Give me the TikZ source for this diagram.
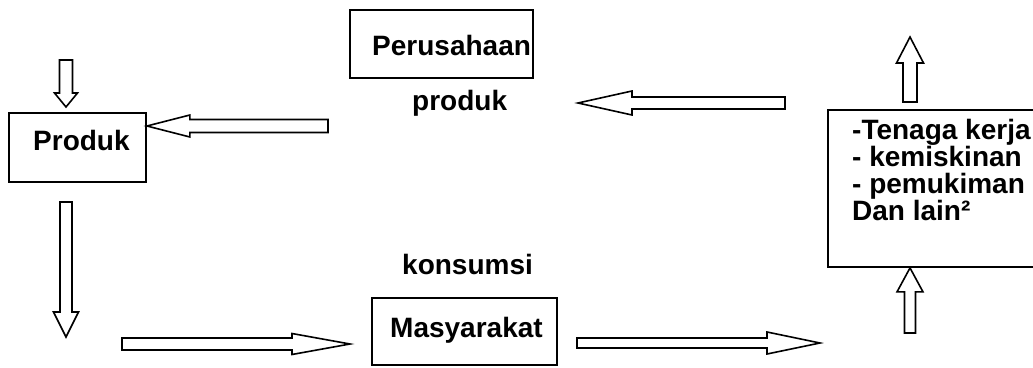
\documentclass[tikz,border=0pt]{standalone}
\usepackage{fontspec}
\setmainfont{Liberation Sans}
\usetikzlibrary{calc}
\tikzset{
  tbox/.style={draw, rectangle, line width=1.8pt, inner sep=0pt},
  lbl/.style={inner sep=0pt, font=\bfseries\fontsize{28}{26.7}\selectfont},
  hollow/.style={draw, line width=1.6pt, line join=miter, fill=white},
}
% hollow block arrow: #1 tail, #2 tip, #3 half shaft width, #4 half head width, #5 head length
\newcommand\blockarrow[5]{%
  \coordinate (ba-h) at ($(#2)!#5!(#1)$);
  \draw[hollow] ($(#1)!#3!90:(#2)$) -- ($(ba-h)!#3!90:(#2)$) -- ($(ba-h)!#4!90:(#2)$)
    -- (#2) -- ($(ba-h)!#4!-90:(#2)$) -- ($(ba-h)!#3!-90:(#2)$) -- ($(#1)!#3!-90:(#2)$) -- cycle;
}
\begin{document}
\begin{tikzpicture}[x=1pt, y=-1pt]
\useasboundingbox (0,0) rectangle (1033,367);
\clip (0,0) rectangle (1033,367);

% boxes
\node[tbox, minimum width=137pt, minimum height=69pt] (produk) at (77.5,147.5) {};
\node[lbl, anchor=base west] (produkT) at (33,150) {Produk};

\node[tbox, minimum width=183pt, minimum height=68pt] (perusahaan) at (441.5,44) {};
\node[lbl, anchor=base west] (perusahaanT) at (372,55) {Perusahaan};

\node[tbox, minimum width=185pt, minimum height=67pt] (masyarakat) at (464.5,331.5) {};
\node[lbl, anchor=base west] (masyarakatT) at (390,337) {Masyarakat};

\node[tbox, minimum width=217pt, minimum height=157pt] (dampak) at (936.5,188.5) {};
\node[lbl, anchor=north west, align=left] (dampakT) at (852,119.5)
  {-Tenaga kerja\\- kemiskinan\\- pemukiman\\Dan lain²};

% free labels
\node[lbl, anchor=base west] (lblProduk) at (412,110) {produk};
\node[lbl, anchor=base west] (lblKonsumsi) at (402,274) {konsumsi};

% connector end points
\coordinate (a1s) at (66,60);    \coordinate (a1e) at (66,107);
\coordinate (a2s) at (328,126);  \coordinate (a2e) at (produk.east |- a2s);
\coordinate (a3s) at (785,103);  \coordinate (a3e) at (578,103);
\coordinate (a4s) at (66,202);   \coordinate (a4e) at (66,337);
\coordinate (a5s) at (122,344);  \coordinate (a5e) at (350,344);
\coordinate (a6s) at (577,343);  \coordinate (a6e) at (820,343);
\coordinate (a7s) at (910,102);  \coordinate (a7e) at (910,37);
\coordinate (a8s) at (910,333);  \coordinate (a8e) at (dampak.south -| a8s);

% arrows
\blockarrow{a1s}{a1e}{6.5pt}{11.5pt}{14pt}
\blockarrow{a2s}{a2e}{6.5pt}{11pt}{43pt}
\blockarrow{a3s}{a3e}{6pt}{12pt}{54pt}
\blockarrow{a4s}{a4e}{6pt}{12.5pt}{25pt}
\blockarrow{a5s}{a5e}{6pt}{10.5pt}{58pt}
\blockarrow{a6s}{a6e}{5pt}{11pt}{53pt}
\blockarrow{a7s}{a7e}{7pt}{13.5pt}{26pt}
\blockarrow{a8s}{a8e}{5.5pt}{13pt}{24pt}
\end{tikzpicture}
\end{document}
